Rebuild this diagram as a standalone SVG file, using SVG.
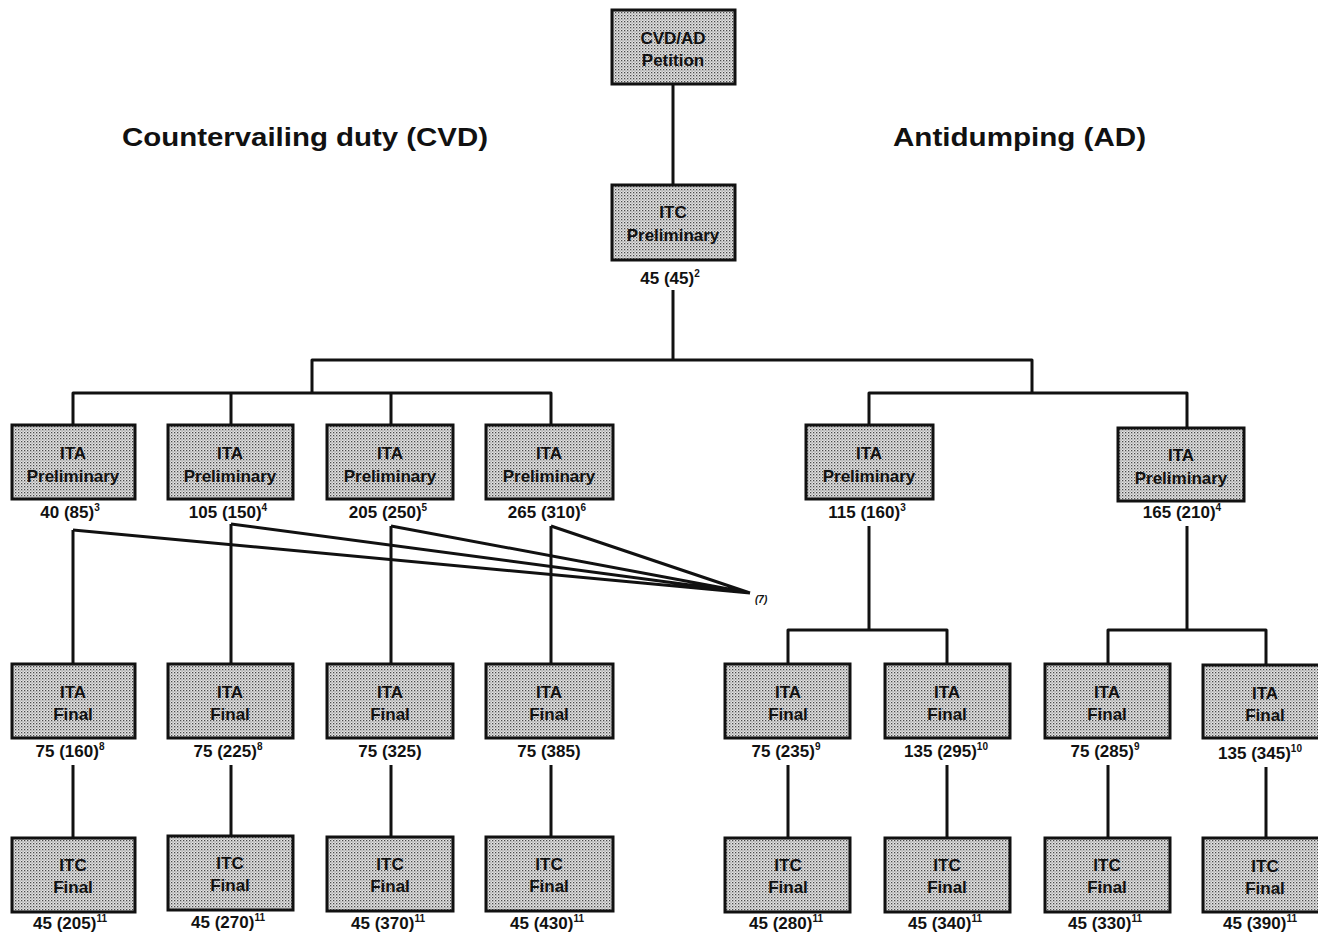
<svg xmlns="http://www.w3.org/2000/svg" width="1318" height="932" viewBox="0 0 1318 932">
<defs>
<pattern id="stip" width="3" height="3" patternUnits="userSpaceOnUse">
<rect width="3" height="3" fill="#e4e4e4"/>
<rect x="0" y="0" width="1.3" height="1.3" fill="#4a4a4a"/>
<rect x="1.5" y="1.5" width="1.1" height="1.1" fill="#7a7a7a"/>
</pattern>
</defs>
<style>
.box{fill:url(#stip);stroke:#111;stroke-width:3}
.bt{font-family:"Liberation Sans",Arial,sans-serif;font-weight:bold;font-size:17px;fill:#111;text-anchor:middle}
.lb{font-family:"Liberation Sans",Arial,sans-serif;font-weight:bold;font-size:17px;fill:#111;text-anchor:middle}
.sup{font-size:10px}
.hd{font-family:"Liberation Sans",Arial,sans-serif;font-weight:bold;font-size:25px;fill:#111}
.cn{fill:none;stroke:#111;stroke-width:3;stroke-linejoin:round}
</style>
<rect width="1318" height="932" fill="#ffffff"/>

<text class="hd" x="122" y="146" textLength="366" lengthAdjust="spacingAndGlyphs">Countervailing duty (CVD)</text>
<text class="hd" x="893" y="146" textLength="253" lengthAdjust="spacingAndGlyphs">Antidumping (AD)</text>

<g id="connectors">
<path class="cn" d="M673 84V185"/>
<path class="cn" d="M673 290V360"/>
<path class="cn" d="M312 393V360H1032V393"/>
<path class="cn" d="M73 425V393H551V425M231 393V425M391 393V425"/>
<path class="cn" d="M869 425V393H1187V428"/>
<path class="cn" d="M73 530V664M231 524V664M391 526V664M551 526V664"/>
<path class="cn" d="M73 530L750 593M231 524L750 593M391 526L750 593M551 526L750 593"/>
<path class="cn" d="M869 526V630M788 664V630H947V664"/>
<path class="cn" d="M1187 526V630M1108 664V630H1266V665"/>
<path class="cn" d="M73 765V838M231 765V836M391 765V837M551 765V837M788 765V838M947 765V838M1108 765V838M1266 767V838"/>
</g>
<text x="755" y="603" font-family="Liberation Sans, Arial, sans-serif" font-weight="bold" font-style="italic" font-size="10" fill="#111">(7)</text>

<g id="petition"><rect class="box" x="612" y="10" width="123" height="74"/><text class="bt" x="673" y="44">CVD/AD</text><text class="bt" x="673" y="66">Petition</text></g>
<g id="itc-prelim"><rect class="box" x="612" y="185" width="123" height="75"/><text class="bt" x="673" y="218">ITC</text><text class="bt" x="673" y="241">Preliminary</text><text class="lb" x="670" y="284">45 (45)<tspan class="sup" dy="-7">2</tspan></text></g>

<g id="cvd-ita-prelim-1"><rect class="box" x="12" y="425" width="123" height="74"/><text class="bt" x="73" y="459">ITA</text><text class="bt" x="73" y="482">Preliminary</text><text class="lb" x="70" y="518">40 (85)<tspan class="sup" dy="-7">3</tspan></text></g>
<g id="cvd-ita-prelim-2"><rect class="box" x="168" y="425" width="125" height="74"/><text class="bt" x="230" y="459">ITA</text><text class="bt" x="230" y="482">Preliminary</text><text class="lb" x="228" y="518">105 (150)<tspan class="sup" dy="-7">4</tspan></text></g>
<g id="cvd-ita-prelim-3"><rect class="box" x="327" y="425" width="126" height="74"/><text class="bt" x="390" y="459">ITA</text><text class="bt" x="390" y="482">Preliminary</text><text class="lb" x="388" y="518">205 (250)<tspan class="sup" dy="-7">5</tspan></text></g>
<g id="cvd-ita-prelim-4"><rect class="box" x="486" y="425" width="127" height="74"/><text class="bt" x="549" y="459">ITA</text><text class="bt" x="549" y="482">Preliminary</text><text class="lb" x="547" y="518">265 (310)<tspan class="sup" dy="-7">6</tspan></text></g>

<g id="ad-ita-prelim-1"><rect class="box" x="806" y="425" width="127" height="74"/><text class="bt" x="869" y="459">ITA</text><text class="bt" x="869" y="482">Preliminary</text><text class="lb" x="867" y="518">115 (160)<tspan class="sup" dy="-7">3</tspan></text></g>
<g id="ad-ita-prelim-2"><rect class="box" x="1118" y="428" width="126" height="73"/><text class="bt" x="1181" y="461">ITA</text><text class="bt" x="1181" y="484">Preliminary</text><text class="lb" x="1182" y="518">165 (210)<tspan class="sup" dy="-7">4</tspan></text></g>

<g id="cvd-ita-final-1"><rect class="box" x="12" y="664" width="123" height="74"/><text class="bt" x="73" y="698">ITA</text><text class="bt" x="73" y="720">Final</text><text class="lb" x="70" y="757">75 (160)<tspan class="sup" dy="-7">8</tspan></text></g>
<g id="cvd-ita-final-2"><rect class="box" x="168" y="664" width="125" height="74"/><text class="bt" x="230" y="698">ITA</text><text class="bt" x="230" y="720">Final</text><text class="lb" x="228" y="757">75 (225)<tspan class="sup" dy="-7">8</tspan></text></g>
<g id="cvd-ita-final-3"><rect class="box" x="327" y="664" width="126" height="74"/><text class="bt" x="390" y="698">ITA</text><text class="bt" x="390" y="720">Final</text><text class="lb" x="390" y="757">75 (325)</text></g>
<g id="cvd-ita-final-4"><rect class="box" x="486" y="664" width="127" height="74"/><text class="bt" x="549" y="698">ITA</text><text class="bt" x="549" y="720">Final</text><text class="lb" x="549" y="757">75 (385)</text></g>

<g id="ad-ita-final-1"><rect class="box" x="725" y="664" width="125" height="74"/><text class="bt" x="788" y="698">ITA</text><text class="bt" x="788" y="720">Final</text><text class="lb" x="786" y="757">75 (235)<tspan class="sup" dy="-7">9</tspan></text></g>
<g id="ad-ita-final-2"><rect class="box" x="885" y="664" width="125" height="74"/><text class="bt" x="947" y="698">ITA</text><text class="bt" x="947" y="720">Final</text><text class="lb" x="946" y="757">135 (295)<tspan class="sup" dy="-7">10</tspan></text></g>
<g id="ad-ita-final-3"><rect class="box" x="1045" y="664" width="125" height="74"/><text class="bt" x="1107" y="698">ITA</text><text class="bt" x="1107" y="720">Final</text><text class="lb" x="1105" y="757">75 (285)<tspan class="sup" dy="-7">9</tspan></text></g>
<g id="ad-ita-final-4"><rect class="box" x="1203" y="665" width="125" height="73"/><text class="bt" x="1265" y="699">ITA</text><text class="bt" x="1265" y="721">Final</text><text class="lb" x="1260" y="759">135 (345)<tspan class="sup" dy="-7">10</tspan></text></g>

<g id="cvd-itc-final-1"><rect class="box" x="12" y="838" width="123" height="74"/><text class="bt" x="73" y="871">ITC</text><text class="bt" x="73" y="893">Final</text><text class="lb" x="70" y="929">45 (205)<tspan class="sup" dy="-7">11</tspan></text></g>
<g id="cvd-itc-final-2"><rect class="box" x="168" y="836" width="125" height="74"/><text class="bt" x="230" y="869">ITC</text><text class="bt" x="230" y="891">Final</text><text class="lb" x="228" y="928">45 (270)<tspan class="sup" dy="-7">11</tspan></text></g>
<g id="cvd-itc-final-3"><rect class="box" x="327" y="837" width="126" height="74"/><text class="bt" x="390" y="870">ITC</text><text class="bt" x="390" y="892">Final</text><text class="lb" x="388" y="929">45 (370)<tspan class="sup" dy="-7">11</tspan></text></g>
<g id="cvd-itc-final-4"><rect class="box" x="486" y="837" width="127" height="74"/><text class="bt" x="549" y="870">ITC</text><text class="bt" x="549" y="892">Final</text><text class="lb" x="547" y="929">45 (430)<tspan class="sup" dy="-7">11</tspan></text></g>

<g id="ad-itc-final-1"><rect class="box" x="725" y="838" width="125" height="74"/><text class="bt" x="788" y="871">ITC</text><text class="bt" x="788" y="893">Final</text><text class="lb" x="786" y="929">45 (280)<tspan class="sup" dy="-7">11</tspan></text></g>
<g id="ad-itc-final-2"><rect class="box" x="885" y="838" width="125" height="74"/><text class="bt" x="947" y="871">ITC</text><text class="bt" x="947" y="893">Final</text><text class="lb" x="945" y="929">45 (340)<tspan class="sup" dy="-7">11</tspan></text></g>
<g id="ad-itc-final-3"><rect class="box" x="1045" y="838" width="125" height="74"/><text class="bt" x="1107" y="871">ITC</text><text class="bt" x="1107" y="893">Final</text><text class="lb" x="1105" y="929">45 (330)<tspan class="sup" dy="-7">11</tspan></text></g>
<g id="ad-itc-final-4"><rect class="box" x="1203" y="838" width="125" height="74"/><text class="bt" x="1265" y="872">ITC</text><text class="bt" x="1265" y="894">Final</text><text class="lb" x="1260" y="929">45 (390)<tspan class="sup" dy="-7">11</tspan></text></g>
</svg>
